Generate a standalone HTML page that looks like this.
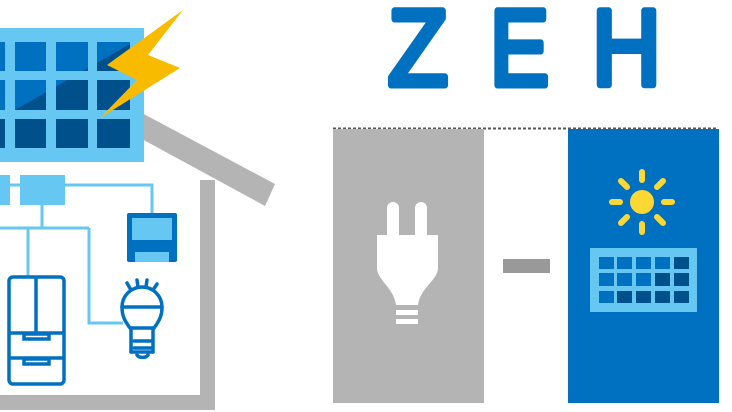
<!DOCTYPE html>
<html><head><meta charset="utf-8"><style>html,body{margin:0;padding:0;background:#fff}svg{display:block}</style></head>
<body>
<svg width="732" height="412" viewBox="0 0 732 412" xmlns="http://www.w3.org/2000/svg">
<!-- house -->
<g fill="#b4b4b4">
<polygon points="140,112 275,184 265,206 140,138"/>
<rect x="200" y="180" width="15" height="230"/>
<rect x="0" y="395" width="215" height="15"/>
</g>
<!-- solar panel -->
<rect x="0" y="28" width="144" height="134" fill="#66c8f2"/>
<g fill="#00508c">
<rect x="-20" y="42" width="25" height="29"/><rect x="15" y="42" width="31" height="29"/><rect x="56" y="42" width="32" height="29"/><rect x="97" y="42" width="33" height="29"/>
<rect x="-20" y="80" width="25" height="30"/><rect x="15" y="80" width="31" height="30"/><rect x="56" y="80" width="32" height="30"/><rect x="97" y="80" width="33" height="30"/>
<rect x="-20" y="119" width="25" height="29"/><rect x="15" y="119" width="31" height="29"/><rect x="56" y="119" width="32" height="29"/><rect x="97" y="119" width="33" height="29"/>
</g>
<g fill="#0070c0">
<polygon points="15,42 130,42 130,44 15,110"/>
<polygon points="-20,42 5,42 5,110 -20,110"/>
</g>
<g fill="#66c8f2"><rect x="46" y="28" width="10" height="134"/><rect x="88" y="28" width="9" height="134"/><rect x="5" y="28" width="10" height="134"/><rect x="0" y="71" width="144" height="9"/><rect x="0" y="110" width="144" height="9"/></g>
<polygon points="183,10 148,55 180,68 100,118 137,80 107,65" fill="#f8bb00"/>
<!-- wiring -->
<g fill="#66c8f2"><rect x="0" y="175" width="10" height="30"/><rect x="20" y="175" width="45" height="30"/></g>
<g stroke="#66c8f2" stroke-width="3" fill="none">
<line x1="8" y1="185" x2="22" y2="185"/>
<polyline points="64,185 152,185 152,214"/>
<line x1="42" y1="205" x2="42" y2="228"/>
<line x1="0" y1="228" x2="89" y2="228"/>
<line x1="28" y1="228" x2="28" y2="277"/>
<polyline points="89,228 89,323 123,323"/>
</g>
<!-- washer -->
<rect x="127" y="213" width="50" height="49" rx="2" fill="#0070c0"/>
<rect x="132" y="218" width="40" height="22" fill="#66c8f2"/>
<rect x="135" y="252" width="34" height="10" fill="#66c8f2"/>
<!-- fridge -->
<g stroke="#0070c0" stroke-width="3.5" fill="none">
<rect x="9" y="277" width="55" height="107" rx="4"/>
<line x1="36" y1="277" x2="36" y2="333"/>
<line x1="9" y1="333" x2="64" y2="333"/>
<line x1="9" y1="358" x2="64" y2="358"/>
<rect x="24" y="334" width="25" height="5"/>
<rect x="24" y="359" width="25" height="5"/>
</g>
<!-- bulb -->
<g stroke="#0070c0" stroke-width="3.5" fill="none" stroke-linecap="round">
<path d="M130,328 C124,320 122,315 122,307 A20,20 0 0 1 162,307 C162,315 160,320 154,328 Z"/>
<line x1="122" y1="307" x2="162" y2="307"/>
<line x1="134" y1="341" x2="151" y2="341"/>
<line x1="134" y1="348" x2="151" y2="348"/>
<line x1="131" y1="328" x2="131" y2="352"/><line x1="153" y1="328" x2="153" y2="352"/>
<line x1="131" y1="352" x2="153" y2="352"/>
<path d="M137,355 A6,4 0 0 0 148,355"/>
<line x1="127" y1="283" x2="131" y2="290"/><line x1="137" y1="280" x2="138" y2="287"/><line x1="147" y1="280" x2="146" y2="287"/><line x1="157" y1="284" x2="153" y2="290"/>
</g>
<!-- title -->
<g font-family="Liberation Sans, sans-serif" font-size="108" fill="#0070c0" stroke="#0070c0" stroke-width="7" stroke-linejoin="round">
<text x="388" y="85" textLength="60" lengthAdjust="spacingAndGlyphs">Z</text>
<text x="490" y="85" textLength="59" lengthAdjust="spacingAndGlyphs">E</text>
<text x="592" y="85" textLength="69" lengthAdjust="spacingAndGlyphs">H</text>
</g>
<line x1="333" y1="128.5" x2="718" y2="128.5" stroke="#555" stroke-width="2" stroke-dasharray="3,2"/>
<rect x="333" y="129" width="151" height="274" fill="#b4b4b4"/>
<rect x="568" y="129" width="151" height="274" fill="#0070c0"/>
<rect x="503" y="259" width="47" height="14" fill="#999"/>
<!-- plug -->
<g fill="#fff">
<rect x="387" y="202" width="12" height="40" rx="6"/>
<rect x="415" y="202" width="12" height="40" rx="6"/>
<path d="M377,235 H438 V268 C438,280 420,288 418,305 H396 C394,288 377,280 377,268 Z"/>
<rect x="396" y="310" width="22" height="5"/>
<rect x="396" y="319" width="22" height="5"/>
</g>
<!-- sun -->
<g stroke="#fdd835" stroke-width="6" stroke-linecap="round">
<circle cx="642" cy="202" r="12" fill="#fdd835" stroke="none"/>
<line x1="642" y1="172" x2="642" y2="180"/><line x1="642" y1="224" x2="642" y2="232"/>
<line x1="612" y1="202" x2="620" y2="202"/><line x1="664" y1="202" x2="672" y2="202"/>
<line x1="621" y1="181" x2="627" y2="187"/><line x1="663" y1="181" x2="657" y2="187"/>
<line x1="621" y1="223" x2="627" y2="217"/><line x1="663" y1="223" x2="657" y2="217"/>
</g>
<!-- small panel -->
<rect x="590" y="248" width="107" height="64" fill="#66c8f2"/>
<g fill="#0070c0">
<rect x="599" y="257" width="15" height="12"/><rect x="617" y="257" width="15" height="12"/><rect x="636" y="257" width="15" height="12"/><rect x="655" y="257" width="15" height="12"/>
<rect x="599" y="273" width="15" height="13"/><rect x="617" y="273" width="15" height="13"/><rect x="636" y="273" width="15" height="13"/>
<rect x="599" y="291" width="15" height="12"/>
</g>
<g fill="#00508c">
<rect x="674" y="257" width="15" height="12"/>
<rect x="655" y="273" width="15" height="13"/><rect x="674" y="273" width="15" height="13"/>
<rect x="617" y="291" width="15" height="12"/><rect x="636" y="291" width="15" height="12"/><rect x="655" y="291" width="15" height="12"/><rect x="674" y="291" width="15" height="12"/>
</g>
</svg>
</body></html>
